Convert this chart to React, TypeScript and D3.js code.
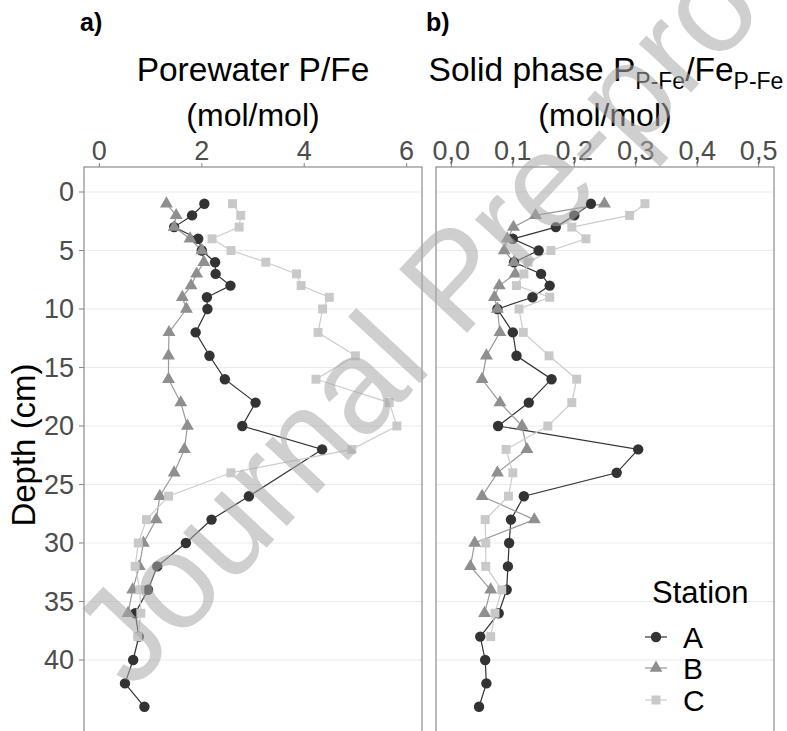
import React from 'react';
import * as d3 from 'd3';

// Sampling depths (cm)
const depths = [1, 2, 3, 4, 5, 6, 7, 8, 9, 10, 12, 14, 16, 18, 20, 22, 24, 26, 28, 30, 32, 34, 36, 38, 40, 42, 44];
const stations = ['A', 'B', 'C'];

// Porewater P/Fe (mol/mol) per station; null = no sample
const porewaterA = [2.05, 1.81, 1.46, 1.93, 2.0, 2.26, 2.27, 2.56, 2.1, 2.11, 1.88, 2.15, 2.45, 3.05, 2.79, 4.35, null, 2.92, 2.19, 1.69, 1.13, 0.95, 0.7, 0.77, 0.66, 0.5, 0.88];
const porewaterB = [1.31, 1.5, 1.46, 1.77, 2.0, 2.04, 1.9, 1.79, 1.62, 1.7, 1.36, 1.35, 1.35, 1.59, 1.72, 1.66, 1.46, 1.18, 1.11, 0.86, 0.78, 0.65, 0.56, null, null, null, null];
const porewaterC = [2.6, 2.76, 2.73, 2.2, 2.57, 3.25, 3.85, 3.94, 4.49, 4.36, 4.27, 5.0, 4.23, 5.66, 5.81, 4.93, 2.57, 1.35, 0.92, 0.76, 0.7, 0.79, 0.81, 0.75, null, null, null];

// Solid phase P(P-Fe)/Fe(P-Fe) (mol/mol) per station
const solidA = [0.227, 0.2, 0.17, 0.1, 0.142, 0.102, 0.146, 0.16, 0.132, 0.075, 0.1, 0.106, 0.163, 0.126, 0.076, 0.304, 0.269, 0.118, 0.097, 0.094, 0.092, 0.09, 0.077, 0.047, 0.055, 0.057, 0.045];
const solidB = [0.249, 0.137, 0.101, 0.091, 0.086, 0.102, 0.104, 0.078, 0.07, 0.075, 0.079, 0.057, 0.05, 0.079, 0.115, 0.123, 0.075, 0.05, 0.135, 0.038, 0.031, 0.064, 0.054, null, null, null, null];
const solidC = [0.315, 0.29, 0.196, 0.219, 0.162, 0.125, 0.118, 0.106, 0.16, 0.11, 0.117, 0.159, 0.204, 0.196, 0.157, 0.089, 0.1, 0.093, 0.055, 0.056, 0.056, 0.082, 0.071, 0.064, null, null, null];

const porewaterTicks = [0, 2, 4, 6];
const solidTicks = [0, 0.1, 0.2, 0.3, 0.4, 0.5];
const depthTicks = [0, 5, 10, 15, 20, 25, 30, 35, 40];

const FONT = '"Liberation Sans", Arial, "DejaVu Sans", sans-serif';
const pointFill: Record<string, string> = { A: '#333333', B: '#8f8f8f', C: '#c9c9c9' };
const lineStroke: Record<string, string> = { A: '#333333', B: '#999999', C: '#cccccc' };
const symbolType: Record<string, d3.SymbolType> = { A: d3.symbolCircle, B: d3.symbolTriangle, C: d3.symbolSquare };
const symbolSize: Record<string, number> = { A: 85, B: 72, C: 80 };

const TOP = 167;
const BOTTOM = 780;
const y = d3.scaleLinear().domain([-2.137, (BOTTOM - 192) / 11.7]).range([TOP, BOTTOM]);

type Series = { station: string; values: (number | null)[] };

function Panel({ x, series, ticks, fmt }: { x: d3.ScaleLinear<number, number>; series: Series[]; ticks: number[]; fmt: (v: number) => string }) {
  const [x0, x1] = x.range();
  const line = d3
    .line<[number, number]>()
    .x((d) => x(d[0]))
    .y((d) => y(d[1]));
  const pts = (s: Series) =>
    s.values
      .map((v, i) => (v == null ? null : ([v, depths[i]] as [number, number])))
      .filter((p): p is [number, number] => p !== null);
  return (
    <g>
      {depthTicks.map((t) => (
        <line key={t} x1={x0} x2={x1} y1={y(t)} y2={y(t)} stroke="#ebebeb" strokeWidth={1.1} />
      ))}
      {series.map((s) => (
        <path key={'l' + s.station} d={line(pts(s)) || ''} fill="none" stroke={lineStroke[s.station]} strokeWidth={1.2} />
      ))}
      {series.map((s) =>
        pts(s).map((p, i) => (
          <path
            key={s.station + i}
            transform={`translate(${x(p[0])},${y(p[1])})`}
            d={d3.symbol().type(symbolType[s.station]).size(symbolSize[s.station])() || ''}
            fill={pointFill[s.station]}
          />
        ))
      )}
      <rect x={x0} y={TOP} width={x1 - x0} height={BOTTOM - TOP} fill="none" stroke="#8c8c8c" strokeWidth={1.2} />
      {ticks.map((t) => (
        <g key={t}>
          <line x1={x(t)} x2={x(t)} y1={TOP - 4} y2={TOP} stroke="#8c8c8c" strokeWidth={1.1} />
          <text x={x(t)} y={160} textAnchor="middle" fontSize={27} fill="#4d4d4d" fontFamily={FONT}>
            {fmt(t)}
          </text>
        </g>
      ))}
    </g>
  );
}

export default function App() {
  const xa = d3.scaleLinear().domain([-0.3, 6.3]).range([84, 422]);
  const xb = d3.scaleLinear().domain([-0.025, 0.525]).range([436, 774]);
  const pwSeries: Series[] = [
    { station: 'A', values: porewaterA },
    { station: 'B', values: porewaterB },
    { station: 'C', values: porewaterC },
  ];
  const solidSeries: Series[] = [
    { station: 'A', values: solidA },
    { station: 'B', values: solidB },
    { station: 'C', values: solidC },
  ];
  const legendY = [637, 668, 700];
  return (
    <div style={{ position: 'absolute', left: 0, top: 0 }}>
      <svg width={787} height={731} style={{ display: 'block', background: '#ffffff' }} fontFamily={FONT}>
        <rect width={787} height={731} fill="#ffffff" />
        <Panel x={xa} series={pwSeries} ticks={porewaterTicks} fmt={(v) => d3.format('d')(v)} />
        <Panel x={xb} series={solidSeries} ticks={solidTicks} fmt={(v) => d3.format('.1f')(v).replace('.', ',')} />

        {/* depth axis */}
        {depthTicks.map((t) => (
          <g key={t}>
            <line x1={79} x2={84} y1={y(t)} y2={y(t)} stroke="#8c8c8c" strokeWidth={1.1} />
            <text x={74} y={y(t)} dy="0.35em" textAnchor="end" fontSize={27} fill="#4d4d4d">
              {t}
            </text>
          </g>
        ))}
        <text transform="translate(35,445) rotate(-90)" textAnchor="middle" fontSize={33} fill="#000">
          Depth (cm)
        </text>

        {/* panel headings */}
        <text x={80} y={31} fontSize={25} fontWeight="bold" fill="#000">a)</text>
        <text x={426} y={31} fontSize={25} fontWeight="bold" fill="#000">b)</text>
        <text x={253} y={81} textAnchor="middle" fontSize={33.5} fill="#000">Porewater P/Fe</text>
        <text x={253} y={126} textAnchor="middle" fontSize={32} fill="#000">(mol/mol)</text>
        <text x={606} y={81} textAnchor="middle" fontSize={33.5} fill="#000">
          Solid phase P
          <tspan fontSize={23} dy={8}>P-Fe</tspan>
          <tspan dy={-8}>/Fe</tspan>
          <tspan fontSize={23} dy={8}>P-Fe</tspan>
        </text>
        <text x={605} y={126} textAnchor="middle" fontSize={32} fill="#000">(mol/mol)</text>

        {/* legend */}
        <text x={652} y={603} fontSize={31} fill="#000">Station</text>
        {stations.map((s, i) => (
          <g key={s}>
            <line x1={645} x2={667} y1={legendY[i]} y2={legendY[i]} stroke={lineStroke[s]} strokeWidth={1.2} />
            <path
              transform={`translate(656,${legendY[i]})`}
              d={d3.symbol().type(symbolType[s]).size(symbolSize[s])() || ''}
              fill={pointFill[s]}
            />
            <text x={683} y={legendY[i]} dy="0.36em" fontSize={30} fill="#000">{s}</text>
          </g>
        ))}

        {/* watermark */}
        <text
          transform="translate(132,692) rotate(-47)"
          fontSize={135}
          fill="#a8a8a8"
          opacity={0.55}
        >
          Journal Pre-proof
        </text>
      </svg>
    </div>
  );
}
